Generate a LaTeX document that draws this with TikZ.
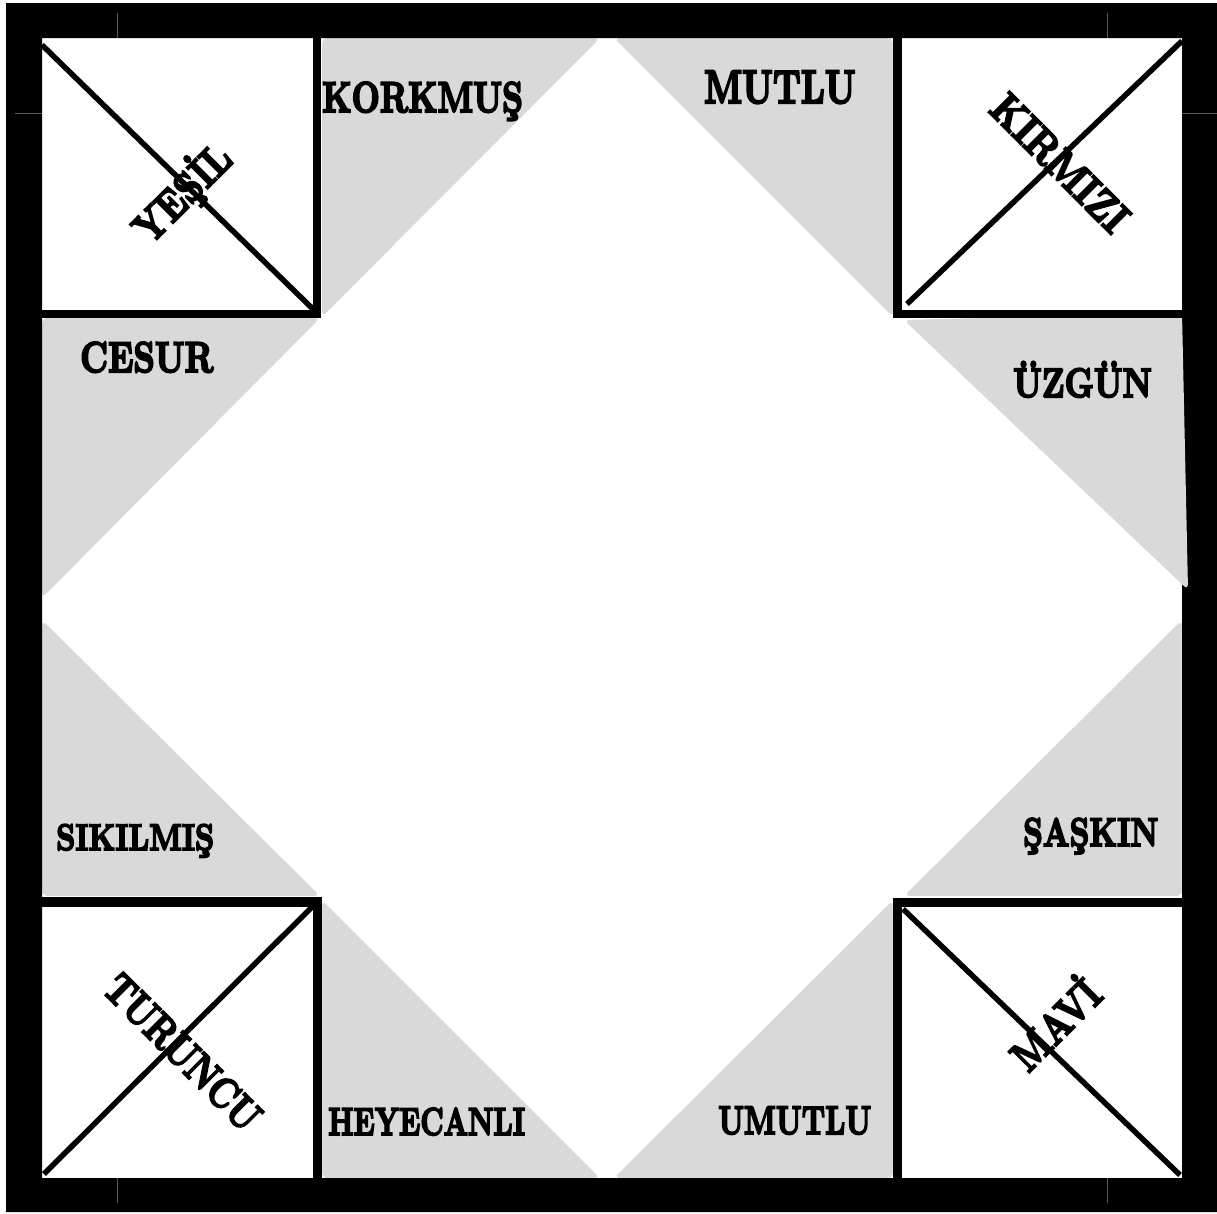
\documentclass[tikz,border=0pt]{standalone}
\usepackage{fontspec}
\newfontfamily\lblfont{lmroman10-bold.otf}[FakeBold=5]
\definecolor{triGray}{HTML}{D9D9D9}
\newcommand{\labtxt}[3]{\scalebox{#2}[1]{\fontsize{#1}{#1}\selectfont\lblfont #3}}
\begin{document}
\begin{tikzpicture}[x=1pt,y=-1pt,
  graytri/.style={fill=triGray, rounded corners=6pt},
  diag/.style={draw=black, line width=5.5pt},
  lbl/.style={inner sep=0pt, anchor=base west, text=black},
  rlbl/.style={inner sep=0pt, anchor=center, text=black},
  guide/.style={draw=gray!70!black, line width=0.8pt}]
\useasboundingbox (0,0) rectangle (1217,1213);
\fill[white] (0,0) rectangle (1217,1213);
% inner white field
\fill[white] (42,38) rectangle (1182,1178);
% gray triangles
\fill[graytri] (322,38) -- (600,38) -- (322,317) -- cycle;
\fill[graytri] (614,38) -- (893,38) -- (893,317) -- cycle;
\fill[graytri] (42,318) -- (320,318) -- (42,598) -- cycle;
\fill[graytri] (42,620) -- (42,896) -- (320,896) -- cycle;
\fill[graytri] (1182,620) -- (1182,896) -- (904,896) -- cycle;
\fill[graytri] (322,900) -- (322,1178) -- (600,1178) -- cycle;
\fill[graytri] (893,900) -- (893,1178) -- (614,1178) -- cycle;
% outer black frame
\fill[black, even odd rule] (6,3) rectangle (1217,1212) (42,38) rectangle (1182,1178);
% faint guide lines in the frame
\draw[guide] (117,13) -- (117,38);
\draw[guide] (15,113) -- (42,113);
\draw[guide] (1107,13) -- (1107,38);
\draw[guide] (1182,113) -- (1217,113);
\draw[guide] (117,1178) -- (117,1203);
\draw[guide] (1107,1178) -- (1107,1203);
% skewed sad triangle overlapping frame
\fill[graytri] (904,320) -- (1182,313) -- (1188,590) -- cycle;
% corner squares borders
\fill[black] (313,38) rectangle (321,318);
\fill[black] (42,310) rectangle (321,318);
\fill[black] (893,38) rectangle (902,318);
\fill[black] (893,310) rectangle (1182,318);
\fill[black] (42,897) rectangle (322,907);
\fill[black] (313,897) rectangle (322,1178);
\fill[black] (893,898) rectangle (1182,907);
\fill[black] (893,898) rectangle (902,1178);
% diagonals
\coordinate (tlA) at (42,45);   \coordinate (tlB) at (315,311);
\coordinate (trA) at (907,304); \coordinate (trB) at (1182,41);
\coordinate (blA) at (44,1174); \coordinate (blB) at (320,899);
\coordinate (brA) at (903,909); \coordinate (brB) at (1180,1175);
\draw[diag] (tlA) -- (tlB);
\draw[diag] (trA) -- (trB);
\draw[diag] (blA) -- (blB);
\draw[diag] (brA) -- (brB);
% feeling labels
\node[lbl] (korkmus) at (322,112) {\labtxt{43}{0.76}{KORKMUŞ}};
\node[lbl] (mutlu) at (704,103) {\labtxt{47}{0.74}{MUTLU}};
\node[lbl] (cesur) at (80,372) {\labtxt{43}{0.78}{CESUR}};
\node[lbl] (uzgun) at (1013,397) {\labtxt{41}{0.79}{ÜZGÜN}};
\node[lbl] (sikilmis) at (56,850) {\labtxt{37}{0.81}{SIKILMIŞ}};
\node[lbl] (saskin) at (1023,846) {\labtxt{40}{0.77}{ŞAŞKIN}};
\node[lbl] (heyecanli) at (328,1135) {\labtxt{39}{0.72}{HEYECANLI}};
\node[lbl] (umutlu) at (718,1134) {\labtxt{40}{0.73}{UMUTLU}};
% colour labels
\node[rlbl, rotate=45] (yesil) at (182,193) {\labtxt{43}{0.82}{YEŞİL}};
\node[rlbl, rotate=-45] (kirmizi) at (1060,163) {\labtxt{43}{0.84}{KIRMIZI}};
\node[rlbl, rotate=-45] (turuncu) at (183,1052) {\labtxt{43}{0.78}{TURUNCU}};
\node[rlbl, rotate=45] (mavi) at (1053,1022) {\labtxt{43}{0.80}{MAVİ}};
\end{tikzpicture}
\end{document}
